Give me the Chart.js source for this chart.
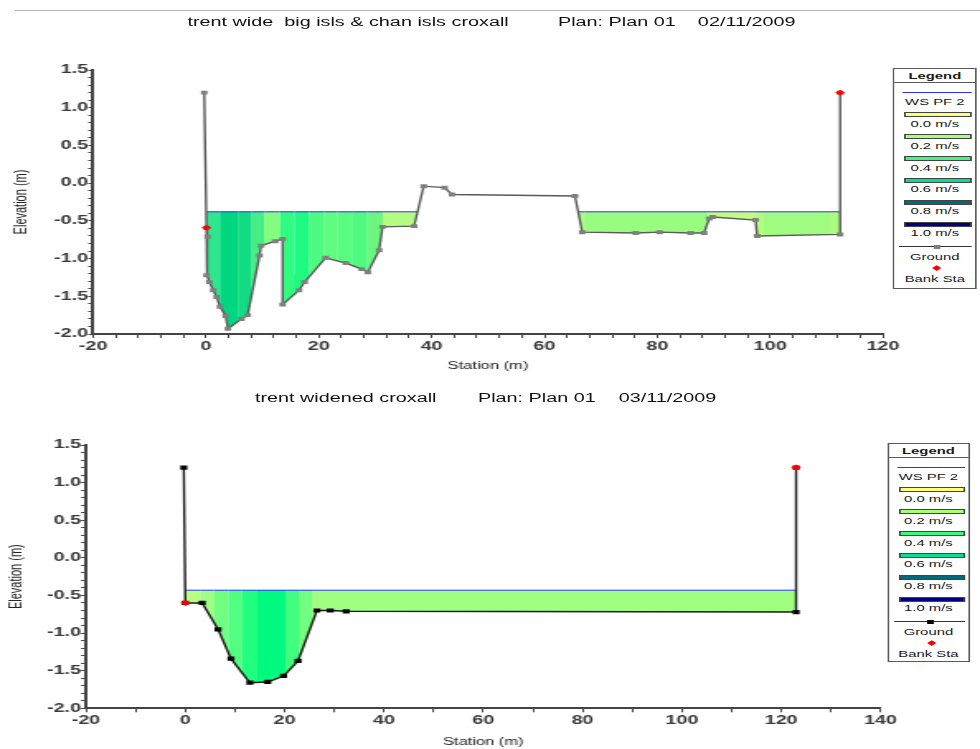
<!DOCTYPE html>
<html>
<head>
<meta charset="utf-8">
<script src="https://cdn.jsdelivr.net/npm/chart.js@4.4.0/dist/chart.umd.min.js"></script>
<style>
  html, body { margin: 0; padding: 0; background: #fff; overflow: hidden; }
  /* the reference is stretched sideways, so draw narrow and stretch the whole sheet */
  #stage { position: absolute; left: 0; top: 0; width: 594px; height: 749px;
           transform: scaleX(1.6498); transform-origin: 0 0;
           font-family: 'Liberation Sans', Arial, sans-serif; color: #111; }
  #stage canvas { position: absolute; left: 0; }
  .rule { position: absolute; left: 8.5px; right: 0; top: 10px; height: 1px; background: #b4b4b4; }
  .ttl { position: absolute; font-size: 12px; line-height: 14px; white-space: pre; color: #111; }
  .legend { position: absolute; border: 1px solid #5a5a5a; box-sizing: border-box; background: #fff; }
  .legend div { position: absolute; }
  .legend .txt { left: 0; width: 100%; text-align: center; font-size: 9px; line-height: 10px; color: #1a1a1a; }
</style>
</head>
<body>
<div id="stage">
  <div class="rule"></div>
  <span class="ttl" style="left:113.6px;top:15px">trent wide  big isls &amp; chan isls croxall</span>
  <span class="ttl" style="left:338.2px;top:15px">Plan: Plan 01</span>
  <span class="ttl" style="left:423px;top:15px">02/11/2009</span>
  <span class="ttl" style="left:154.5px;top:391px">trent widened croxall</span>
  <span class="ttl" style="left:289.7px;top:391px">Plan: Plan 01</span>
  <span class="ttl" style="left:375px;top:391px">03/11/2009</span>
  <canvas id="topChart" width="594" height="380" style="top:0;width:594px;height:380px"></canvas>
  <canvas id="botChart" width="594" height="369" style="top:380px;width:594px;height:369px"></canvas>
</div>
<script>
// ---- top section: trent wide big isls & chan isls croxall ----
const topGroundSta = [-0.3, 0.1, 0.3, 0.1, 0.6, 1.3, 1.9, 2.5, 3.5, 3.9, 6.3, 7.4, 9.5, 9.8, 12.3, 13.6, 13.6,
  16.5, 17.5, 21.2, 24.8, 27.6, 28.7, 30.7, 31.3, 36.9, 38.6, 42.3, 43.6, 65.4, 66.7, 76.2, 80.4, 85.9,
  88.3, 89.2, 89.8, 97.4, 97.7, 112.4, 112.4];
const topGroundElev = [1.2, -0.59, -0.71, -1.22, -1.31, -1.42, -1.51, -1.64, -1.76, -1.93, -1.80, -1.75, -0.96,
  -0.83, -0.77, -0.74, -1.61, -1.42, -1.31, -0.99, -1.06, -1.14, -1.18, -0.89, -0.58, -0.57, -0.04, -0.06,
  -0.15, -0.17, -0.65, -0.66, -0.65, -0.66, -0.66, -0.47, -0.45, -0.49, -0.70, -0.68, 1.2];
const topBankSta = [0.1, 112.4];
const topBankElev = [-0.59, 1.2];
const topWsElev = -0.38;
// velocity strip edges along the water surface (null = dry island)
const topWsSta = [0.1, 2.5, 5.7, 8.1, 10.4, 13.1, 15.7, 18.3, 21.0, 23.3, 26.0, 28.6, 31.3, 37.5,
  null, 66.0, 67.1, 88.9, 97.4, 98.9, 110.6, 112.4];
const topStripColors = ['#2ee68e', '#00d67f', '#12dc82', '#44ee84', '#84fc80', '#30fc80', '#1efa80',
  '#4cfc80', '#60fc80', '#58fc80', '#50fa80', '#6cf680', '#b4fc80', null,
  null, '#b0fc80', '#98fc80', '#c2fc80', '#b2fc80', '#a0fc80', '#aafc80', null];

// ---- bottom section: trent widened croxall ----
const botGroundSta = [-0.3, 0, 3.4, 6.6, 9.2, 13.0, 16.6, 19.8, 22.7, 26.5, 29.2, 32.4, 123.0, 123.0];
const botGroundElev = [1.2, -0.6, -0.6, -0.95, -1.34, -1.66, -1.65, -1.57, -1.37, -0.70, -0.70, -0.71, -0.72, 1.2];
const botBankSta = [0, 123.0];
const botBankElev = [-0.6, 1.2];
const botWsElev = -0.43;
const botWsSta = [0, 3.0, 5.7, 8.7, 11.4, 14.5, 20.2, 22.8, 25.5, 123.0];
const botStripColors = ['#b8ff80', '#a0ff80', '#70ff80', '#50ff80', '#20ff80', '#00fa80', '#40ff80',
  '#70ff80', '#a0ff80', null];

// legend
const legendSpeeds = ['0.0 m/s', '0.2 m/s', '0.4 m/s', '0.6 m/s', '0.8 m/s', '1.0 m/s'];
const legendColors = ['#ffff78', '#a8ff78', '#40f880', '#00e090', '#006a78', '#000080'];

Chart.defaults.font.family = "'Liberation Sans', Arial, sans-serif";

function zip(xs, ys) {
  return xs.map((x, i) => ({ x: x, y: ys[i] }));
}

// water surface filled down to the ground (dataset 0), one colour per velocity strip.
// stacked a few times so the clipped strip edges leave no white seams
function wsLayer(o, withLine) {
  return {
    label: 'WS PF 2',
    data: o.wsSta.map(s => (s === null ? { x: null, y: null } : { x: s, y: o.wsElev })),
    borderColor: '#3434ff',
    borderWidth: withLine ? 1 : 0,
    pointRadius: 0,
    backgroundColor: 'transparent',
    fill: 0,
    spanGaps: false,
    segment: { backgroundColor: c => o.stripColors[c.p0DataIndex] || undefined },
    order: 1,
  };
}

function sectionChart(id, o) {
  return new Chart(document.getElementById(id), {
    type: 'line',
    data: {
      datasets: [
        {
          label: 'Ground',
          data: zip(o.groundSta, o.groundElev),
          borderColor: o.lineColor,
          borderWidth: 1.4,
          pointStyle: 'rect',
          pointRadius: o.markerR,
          pointBackgroundColor: o.markerColor,
          pointBorderWidth: 0,
          fill: false,
          order: 0,
        },
        {
          label: 'Bank Sta',
          data: zip(o.bankSta, o.bankElev),
          showLine: false,
          pointStyle: 'rectRot',
          pointRadius: 3,
          pointBackgroundColor: '#ff0000',
          pointBorderWidth: 0,
          order: -1,
        },
        wsLayer(o, true),
        wsLayer(o, false),
        wsLayer(o, false),
      ],
    },
    options: {
      responsive: false,
      animation: false,
      events: [],
      layout: { padding: { left: 0, top: o.padTop, right: o.padRight, bottom: 0 } },
      plugins: { legend: { display: false }, tooltip: { enabled: false } },
      scales: {
        x: {
          type: 'linear',
          min: -20,
          max: o.xMax,
          afterFit: s => { s.height = o.xAxisH; },
          ticks: {
            stepSize: o.xStep, autoSkip: false, maxRotation: 0, padding: 1, color: '#3a3a3a',
            font: { size: 12, weight: 'bold' },
            callback: v => (v % 20 === 0 ? v : ''),
          },
          grid: { drawOnChartArea: false, tickLength: 4, tickColor: '#444', tickWidth: 1 },
          border: { color: '#444', width: 2 },
          title: { display: true, text: 'Station (m)', color: '#222', font: { size: 10 },
                   padding: { top: 0, bottom: o.xTitlePad } },
        },
        y: {
          min: -2,
          max: 1.5,
          afterFit: s => { s.width = o.yAxisW; },
          ticks: {
            stepSize: 0.1, autoSkip: false, padding: 0, color: '#3a3a3a',
            font: { size: 12, weight: 'bold' },
            callback: v => (Math.round(v * 10) % 5 === 0 ? (Math.round(v * 10) / 10).toFixed(1) : ''),
          },
          grid: { drawOnChartArea: false, tickLength: 3, tickColor: '#444', tickWidth: 1 },
          border: { color: '#444', width: 2 },
          title: { display: true, text: 'Elevation (m)', color: '#222', font: { size: 11 },
                   padding: { top: o.yTitlePad, bottom: 0 } },
        },
      },
    },
  });
}

function put(parent, css, text, cls) {
  const d = document.createElement('div');
  if (cls) d.className = cls;
  d.style.cssText = css;
  if (text) d.textContent = text;
  parent.appendChild(d);
  return d;
}

function buildLegend(left, top, width, height, groundMarker) {
  const box = put(document.getElementById('stage'),
    `left:${left}px;top:${top}px;width:${width}px;height:${height}px`, '', 'legend');
  put(box, 'top:2px;font-weight:bold;font-size:9px;line-height:11px', 'Legend', 'txt');
  put(box, 'left:0;right:0;top:13px;height:1px;background:#5a5a5a');
  put(box, 'left:5px;right:2px;top:22.5px;height:1.5px;background:#3030ff');
  put(box, 'top:28px', 'WS PF 2', 'txt');
  legendSpeeds.forEach((lbl, k) => {
    put(box, `left:6px;right:2px;top:${42.5 + 22 * k}px;height:5px;box-sizing:border-box;` +
      `border:1px solid #444;background:${legendColors[k]}`);
    put(box, `top:${50 + 21.8 * k}px`, lbl, 'txt');
  });
  put(box, 'left:3px;right:2px;top:177px;height:1px;background:#333');
  put(box, `left:23.5px;top:175.5px;width:4px;height:4px;background:${groundMarker}`);
  put(box, 'top:183px', 'Ground', 'txt');
  put(box, 'left:24px;top:197px;width:3.5px;height:3.5px;background:#ff0000;transform:rotate(45deg)');
  put(box, 'top:205px', 'Bank Sta', 'txt');
}

sectionChart('topChart', {
  groundSta: topGroundSta, groundElev: topGroundElev,
  bankSta: topBankSta, bankElev: topBankElev,
  wsSta: topWsSta, wsElev: topWsElev, stripColors: topStripColors,
  lineColor: '#5a5a5a', markerColor: '#7f7f7f', markerR: 2.8,
  xMax: 120, xStep: 4,
  padTop: 70, padRight: 58.8, yAxisW: 56.4, xAxisH: 46, xTitlePad: 8, yTitlePad: 6.7,
});

sectionChart('botChart', {
  groundSta: botGroundSta, groundElev: botGroundElev,
  bankSta: botBankSta, bankElev: botBankElev,
  wsSta: botWsSta, wsElev: botWsElev, stripColors: botStripColors,
  lineColor: '#1a1a1a', markerColor: '#000000', markerR: 3,
  xMax: 140, xStep: 10,
  padTop: 65, padRight: 60.3, yAxisW: 52.1, xAxisH: 40.7, xTitlePad: 1, yTitlePad: 3.1,
});

buildLegend(541.2, 68, 50.9, 221, '#7f7f7f');
buildLegend(537.6, 443, 50.3, 219, '#000000');
</script>
</body>
</html>
